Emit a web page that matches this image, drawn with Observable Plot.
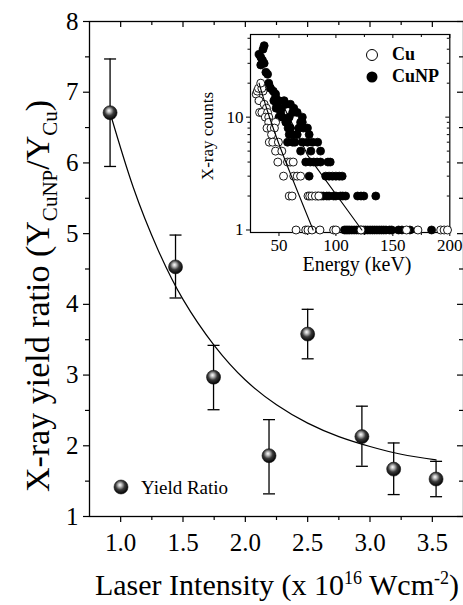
<!DOCTYPE html>
<html>
<head>
<meta charset="utf-8">
<script src="https://cdn.jsdelivr.net/npm/d3@7"></script>
<script src="https://cdn.jsdelivr.net/npm/@observablehq/plot@0.6"></script>
<style>
  html, body { margin: 0; padding: 0; background: white; }
  #chart { position: relative; width: 463px; height: 605px; overflow: hidden; }
  #chart svg { position: absolute; max-width: none; }
  #chart svg, #chart svg text, #chart svg tspan { font-family: "Liberation Serif", serif !important; }
</style>
</head>
<body>
<div id="chart"></div>
<script>
// ---------- Main chart data ----------
const intensity = [0.915, 1.44, 1.745, 2.19, 2.50, 2.935, 3.19, 3.53];
const ratio     = [6.71, 4.53, 2.97, 1.86, 3.58, 2.13, 1.67, 1.53];
const errLow    = [5.95, 4.09, 2.51, 1.32, 3.23, 1.71, 1.31, 1.28];
const errHigh   = [7.47, 4.98, 3.42, 2.37, 3.93, 2.56, 2.04, 1.78];
// fitted curve
const fitX = [0.915, 1.1, 1.3, 1.5, 1.75, 2.0, 2.25, 2.5, 2.75, 3.0, 3.25, 3.53];
const fitY = [6.71, 5.66, 4.77, 4.07, 3.42, 2.93, 2.58, 2.32, 2.13, 1.99, 1.88, 1.80];
const xMajor = [1.0, 1.5, 2.0, 2.5, 3.0, 3.5];
const xMinor = [1.25, 1.75, 2.25, 2.75, 3.25];
const yMajor = [1, 2, 3, 4, 5, 6, 7, 8];
const yMinor = [1.5, 2.5, 3.5, 4.5, 5.5, 6.5, 7.5];

// ---------- Inset data ----------
const cuEnergy = [30, 31, 36, 32, 35, 34, 32.5, 37, 39, 33, 35, 40, 38, 41, 41, 47, 39.5, 43, 46, 43.5,
  41.5, 44.5, 49.5, 47, 52.5, 49, 57.5, 60, 62.5, 54, 63, 66, 69, 59, 61.5, 75.5, 77, 79, 82, 85,
  65, 73.5, 75.5, 79, 86, 98, 100, 122, 162, 172, 192, 195, 198];
const cuCounts = [16, 17, 17, 18, 18, 20, 14, 13, 12, 11, 11, 11, 10, 10, 9, 9, 8, 8, 8, 7,
  6, 6, 6, 5, 5, 4, 4, 4, 4, 3, 3, 3, 3, 2, 2, 2, 2, 2, 2, 2,
  1, 1, 1, 1, 1, 1, 1, 1, 1, 1, 1, 1, 1];
const cunpEnergy = [37, 36, 32.5, 34, 35.5, 34, 37, 38.5, 40, 41, 42.5, 45, 47, 47,
  45.5, 50, 54.5, 48, 56, 60, 47.5, 52, 63, 51.5, 62, 66, 50, 53, 59, 70.5,
  56, 57.5, 69, 70.5, 58, 60, 67.5, 71.5, 75, 59, 62, 66, 76.5,
  57.5, 62, 64, 70.5, 75, 79.5, 84, 69, 78, 86.5,
  73.5, 77.5, 80.5, 83.5, 86.5, 93, 95, 76.5, 91, 94, 97, 100, 103, 105.5,
  84, 87, 89, 92, 94, 98, 100, 104, 106, 108.5, 119, 122, 124.5, 135,
  107.5, 109, 110.5, 112, 114, 116, 118, 120, 122, 124, 126, 128, 130, 132, 134, 136, 138, 140, 142, 144, 147, 149, 155, 158, 165, 184];
const cunpCounts = [43, 40, 36, 34, 32, 29, 30, 25, 24, 20, 18, 17, 16, 15,
  14, 14, 14, 13, 13, 13, 12, 12, 12, 11, 11, 11, 10, 10, 10, 10,
  9, 9, 9, 9, 8, 8, 8, 8, 8, 7, 7, 7, 7,
  6, 6, 6, 6, 6, 6, 6, 5, 5, 5,
  4, 4, 4, 4, 4, 4, 4, 3, 3, 3, 3, 3, 3, 3,
  2, 2, 2, 2, 2, 2, 2, 2, 2, 2, 2, 2, 2, 2,
  1, 1, 1, 1, 1, 1, 1, 1, 1, 1, 1, 1, 1, 1, 1, 1, 1, 1, 1, 1, 1, 1, 1, 1, 1, 1];
const cuFitE = [32.5, 39.8, 53.7, 80];
const cuFitC = [20, 11.4, 4.6, 1];
const cunpFitE = [44, 58.8, 73.3, 80.6, 122.8];
const cunpFitC = [20, 10, 5.06, 3.85, 1];
const inXMajor = [50, 100, 150, 200];
const inXMinor = [75, 125, 175];
const inYMajor = [1, 10];
const inYMinor = [2, 3, 4, 5, 6, 7, 8, 9, 20, 30, 40, 50];

// ---------- build tables ----------
const points = intensity.map((x, i) => ({x, y: ratio[i], lo: errLow[i], hi: errHigh[i]}));
const fit = fitX.map((x, i) => ({x, y: fitY[i]}));
const cu = cuEnergy.map((e, i) => ({e, c: cuCounts[i]}));
const cunp = cunpEnergy.map((e, i) => ({e, c: cunpCounts[i]}));
const cuFit = cuFitE.map((e, i) => ({e, c: cuFitC[i]}));
const cunpFit = cunpFitE.map((e, i) => ({e, c: cunpFitC[i]}));

const capSymbol = {draw(ctx) { ctx.moveTo(-6, 0); ctx.lineTo(6, 0); }};
const FONT = "Liberation Serif";

// ---------- Main plot ----------
const W = 463, H = 605, mL = 89, mR = 0, mT = 21, mB = 89;
const fW = W - mL - mR, fH = H - mT - mB;
const main = Plot.plot({
  width: W, height: H,
  marginLeft: mL, marginRight: mR, marginTop: mT, marginBottom: mB,
  x: {domain: [0.75, 3.75]},
  y: {domain: [1, 8]},
  style: {fontFamily: FONT, background: "transparent", color: "black", overflow: "visible"},
  marks: [
    Plot.axisX({ticks: xMajor, tickSize: 6, tickPadding: 11, fontSize: 25, tickFormat: d => d.toFixed(1), label: null, strokeWidth: 1.2}),
    Plot.axisX({ticks: xMinor, tickSize: 4, tickFormat: () => "", label: null, strokeWidth: 1.2}),
    Plot.axisY({ticks: yMajor, tickSize: 6, tickPadding: 5, fontSize: 25, tickFormat: d => String(d), label: null, strokeWidth: 1.2}),
    Plot.axisY({ticks: yMinor, tickSize: 4, tickFormat: () => "", label: null, strokeWidth: 1.2}),
    // mirrored inward ticks on top and right
    Plot.tickX(xMajor, {x: d => d, insetBottom: fH - 6, strokeWidth: 1.2}),
    Plot.tickX(xMinor, {x: d => d, insetBottom: fH - 4, strokeWidth: 1.2}),
    Plot.tickY(yMajor, {y: d => d, insetLeft: fW - 6, strokeWidth: 1.2}),
    Plot.tickY(yMinor, {y: d => d, insetLeft: fW - 4, strokeWidth: 1.2}),
    Plot.frame({stroke: "black", strokeWidth: 1.3}),
    Plot.line(fit, {x: "x", y: "y", curve: "natural", stroke: "black", strokeWidth: 1.2}),
    Plot.ruleX(points, {x: "x", y1: "lo", y2: "hi", stroke: "black", strokeWidth: 1.3}),
    Plot.dot(points, {x: "x", y: "lo", symbol: capSymbol, fill: "none", stroke: "black", strokeWidth: 1.3}),
    Plot.dot(points, {x: "x", y: "hi", symbol: capSymbol, fill: "none", stroke: "black", strokeWidth: 1.3}),
    Plot.dot(points, {x: "x", y: "y", r: 7, fill: "url(#sphere)", stroke: "#111", strokeWidth: 0.6})
  ]
});
main.style.left = "0px"; main.style.top = "0px";

const ms = d3.select(main);
ms.insert("defs", ":first-child").html(`
  <radialGradient id="sphere" cx="0.45" cy="0.4" r="0.6" fx="0.42" fy="0.35">
    <stop offset="0" stop-color="#ffffff"/>
    <stop offset="0.22" stop-color="#bdbdbd"/>
    <stop offset="0.55" stop-color="#3a3a3a"/>
    <stop offset="1" stop-color="#000000"/>
  </radialGradient>`);

// axis titles
const xt = ms.append("text").attr("x", 277).attr("y", 595).attr("text-anchor", "middle")
  .attr("font-family", FONT).attr("font-size", 30).attr("fill", "black");
xt.append("tspan").text("Laser Intensity (x 10");
xt.append("tspan").attr("font-size", 18).attr("dy", -11).text("16");
xt.append("tspan").attr("dy", 11).text(" Wcm");
xt.append("tspan").attr("font-size", 18).attr("dy", -11).text("-2");
xt.append("tspan").attr("dy", 11).text(")");

const yt = ms.append("text").attr("transform", "translate(49,296) rotate(-90)").attr("text-anchor", "middle")
  .attr("font-family", FONT).attr("font-size", 34).attr("fill", "black");
yt.append("tspan").text("X-ray yield ratio (Y");
yt.append("tspan").attr("font-size", 21).attr("dy", 8).text("CuNP");
yt.append("tspan").attr("dy", -8).text("/Y");
yt.append("tspan").attr("font-size", 21).attr("dy", 8).text("Cu");
yt.append("tspan").attr("dy", -8).text(")");

// legend
ms.append("circle").attr("cx", 121).attr("cy", 487).attr("r", 7).attr("fill", "url(#sphere)").attr("stroke", "#111").attr("stroke-width", 0.6);
ms.append("text").attr("x", 141).attr("y", 494).attr("text-anchor", "start").attr("font-family", FONT).attr("font-size", 19).attr("fill", "black").text("Yield Ratio");

// ---------- Inset ----------
const IW = 270, IH = 260, iL = 60, iR = 10.7, iT = 14, iB = 48;
const ifW = IW - iL - iR, ifH = IH - iT - iB;
const inset = Plot.plot({
  width: IW, height: IH,
  marginLeft: iL, marginRight: iR, marginTop: iT, marginBottom: iB,
  x: {domain: [25, 200]},
  y: {type: "log", domain: [0.95, 54]},
  style: {fontFamily: FONT, background: "transparent", color: "black", overflow: "visible"},
  marks: [
    Plot.axisX({ticks: inXMajor, tickSize: 4, tickPadding: 2, fontSize: 17, tickFormat: d => String(d), label: null}),
    Plot.axisX({ticks: inXMinor, tickSize: 3, tickFormat: () => "", label: null}),
    Plot.axisY({ticks: inYMajor, tickSize: 4, tickPadding: 3, fontSize: 17, tickFormat: d => String(d), label: null}),
    Plot.axisY({ticks: inYMinor, tickSize: 2.5, tickFormat: () => "", label: null}),
    Plot.tickX(inXMajor, {x: d => d, insetBottom: ifH - 4}),
    Plot.tickX(inXMinor, {x: d => d, insetBottom: ifH - 3}),
    Plot.tickY(inYMajor, {y: d => d, insetLeft: ifW - 4}),
    Plot.tickY(inYMinor, {y: d => d, insetLeft: ifW - 2.5}),
    Plot.frame({stroke: "black", strokeWidth: 1.2}),
    Plot.dot(cunp, {x: "e", y: "c", r: 4, fill: "black", stroke: "black", strokeWidth: 0.8}),
    Plot.dot(cu, {x: "e", y: "c", r: 4, fill: "white", stroke: "black", strokeWidth: 0.9}),
    Plot.line(cuFit, {x: "e", y: "c", curve: "natural", stroke: "black", strokeWidth: 1.1}),
    Plot.line(cunpFit, {x: "e", y: "c", curve: "natural", stroke: "black", strokeWidth: 1.1})
  ]
});
inset.style.left = "190px"; inset.style.top = "20px";
const is = d3.select(inset);
is.append("text").attr("x", 357 - 190).attr("y", 271 - 20).attr("text-anchor", "middle")
  .attr("font-family", FONT).attr("font-size", 20).attr("fill", "black").text("Energy (keV)");
is.append("text").attr("transform", `translate(${213 - 190},${136 - 20}) rotate(-90)`).attr("text-anchor", "middle")
  .attr("font-family", FONT).attr("font-size", 17).attr("fill", "black").text("X-ray counts");
// inset legend
is.append("circle").attr("cx", 372 - 190).attr("cy", 55 - 20).attr("r", 5.5).attr("fill", "white").attr("stroke", "black").attr("stroke-width", 1);
is.append("text").attr("x", 392 - 190).attr("y", 60 - 20).attr("text-anchor", "start").attr("font-family", FONT).attr("font-weight", "bold").attr("font-size", 18).text("Cu");
is.append("circle").attr("cx", 372 - 190).attr("cy", 77 - 20).attr("r", 5.5).attr("fill", "black");
is.append("text").attr("x", 392 - 190).attr("y", 82 - 20).attr("text-anchor", "start").attr("font-family", FONT).attr("font-weight", "bold").attr("font-size", 18).text("CuNP");

const chart = document.getElementById("chart");
chart.appendChild(main);
chart.appendChild(inset);
</script>
</body>
</html>
